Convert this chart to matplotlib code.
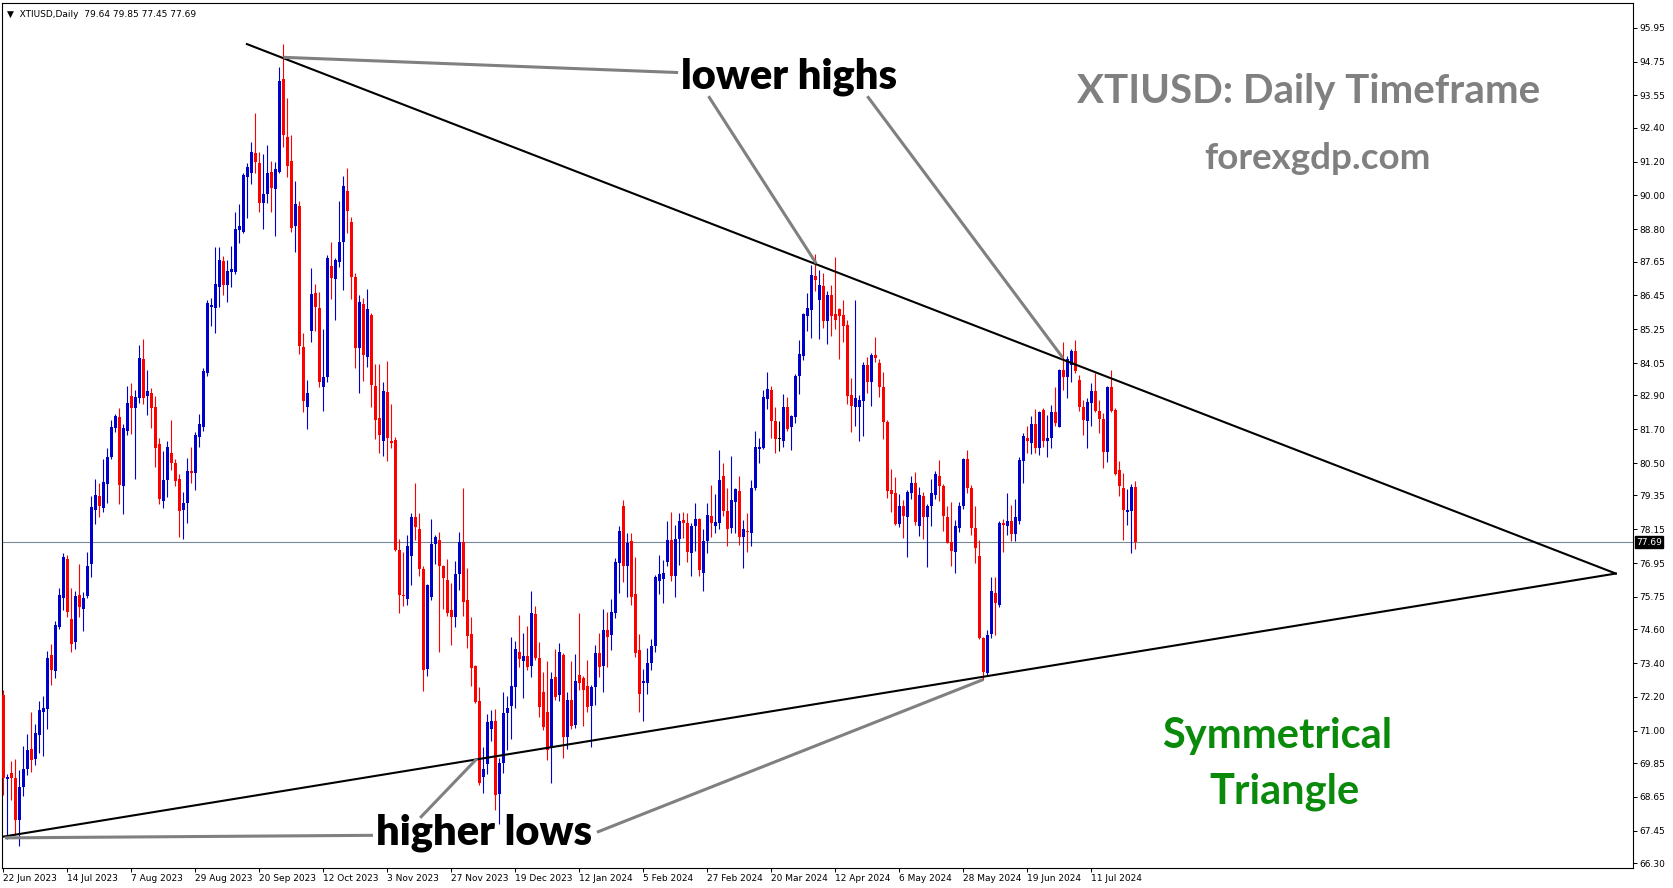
import numpy as np
import pandas as pd
import matplotlib
matplotlib.use("Agg")
import matplotlib.pyplot as plt

# ---- XTIUSD daily candles, 22 Jun 2023 .. 26 Jul 2024 ----
opens = [72.27, 69.30, 69.51, 69.33, 67.83, 69.01, 69.66, 70.35, 69.99, 70.86,
         71.67, 71.79, 73.69, 73.11, 74.69, 75.72, 77.10, 74.96, 74.16, 75.81,
         75.33, 75.77, 76.92, 78.84, 79.32, 78.89, 79.76, 80.72, 81.74, 82.13,
         79.70, 81.65, 82.88, 82.46, 82.80, 84.20, 82.88, 83.00, 82.49, 81.17,
         79.16, 79.90, 80.85, 80.49, 79.92, 78.83, 79.09, 80.23, 80.16, 81.44,
         81.79, 83.71, 86.03, 85.99, 86.74, 87.68, 86.82, 87.29, 87.29, 88.77,
         88.71, 90.64, 90.81, 91.52, 91.16, 89.74, 90.05, 90.83, 90.21, 90.84,
         94.12, 92.08, 91.23, 88.91, 89.62, 84.63, 82.48, 85.20, 86.52, 85.99,
         83.21, 83.54, 87.50, 87.03, 87.63, 88.36, 90.17, 89.06, 87.09, 84.59,
         86.16, 84.27, 85.75, 83.22, 82.10, 81.29, 83.03, 81.29, 81.32, 77.42,
         75.83, 75.68, 77.21, 78.58, 78.15, 76.74, 73.18, 75.76, 77.64, 77.76,
         76.84, 76.34, 75.29, 75.03, 76.55, 77.70, 75.64, 74.45, 73.29, 72.06,
         69.36, 69.82, 71.05, 71.35, 68.76, 69.85, 71.62, 71.88, 72.57, 73.81,
         73.46, 73.66, 73.30, 75.15, 73.57, 72.39, 71.65, 70.38, 72.90, 72.27,
         73.69, 70.79, 72.10, 71.21, 72.98, 72.86, 72.59, 71.88, 72.57, 73.77,
         73.30, 74.56, 74.40, 75.19, 76.97, 78.96, 76.83, 77.75, 75.86, 73.85,
         72.71, 72.69, 73.40, 74.01, 76.33, 76.38, 77.00, 77.77, 76.50, 77.80,
         78.48, 78.36, 77.32, 78.25, 78.51, 76.61, 77.74, 78.62, 78.27, 78.39,
         80.04, 78.81, 78.19, 79.13, 79.52, 77.89, 78.09, 78.03, 79.61, 80.99,
         81.03, 82.76, 83.10, 82.01, 81.34, 81.30, 82.48, 81.77, 82.12, 83.59,
         84.30, 85.72, 85.93, 87.14, 86.27, 86.79, 85.56, 86.47, 85.79, 85.96,
         85.76, 85.40, 82.92, 82.50, 82.50, 82.72, 83.98, 83.36, 84.34, 84.04,
         83.19, 81.97, 79.55, 79.43, 78.34, 78.98, 78.60, 79.45, 79.81, 78.25,
         79.33, 78.58, 78.96, 79.37, 80.04, 79.69, 78.60, 77.71, 77.36, 78.19,
         78.96, 80.64, 79.61, 78.19, 77.20, 74.31, 73.06, 74.45, 75.89, 75.45,
         78.39, 78.27, 78.46, 77.99, 78.46, 80.59, 81.38, 81.23, 81.89, 81.03,
         82.39, 81.30, 81.38, 82.33, 81.79, 83.81, 83.55, 83.98, 84.46, 83.45,
         82.50, 82.01, 82.62, 83.07, 82.36, 82.08, 80.91, 83.19, 82.39, 80.26,
         79.61, 78.78, 78.81, 79.64]
highs = [72.45, 69.45, 69.93, 69.99, 69.60, 70.47, 70.89, 71.65, 71.25, 72.05,
         72.25, 73.83, 74.07, 74.91, 76.07, 77.31, 77.25, 76.07, 75.96, 76.92,
         75.93, 77.33, 79.34, 79.94, 79.80, 80.66, 81.02, 82.04, 82.25, 82.44,
         81.89, 83.24, 83.33, 83.09, 84.68, 84.92, 83.80, 83.18, 82.88, 81.38,
         80.93, 81.30, 82.03, 80.63, 80.13, 79.49, 80.67, 81.08, 81.62, 82.24,
         83.86, 86.27, 86.35, 88.18, 88.18, 87.85, 87.71, 88.20, 89.42, 89.69,
         90.81, 91.14, 91.91, 92.93, 91.55, 91.47, 91.79, 91.23, 91.20, 94.54,
         95.37, 93.45, 92.14, 90.52, 89.81, 85.13, 83.45, 87.41, 86.86, 86.58,
         85.25, 87.89, 88.36, 87.78, 89.81, 90.70, 90.97, 89.23, 87.23, 86.48,
         86.36, 86.69, 85.82, 84.01, 84.01, 83.36, 84.13, 82.59, 81.41, 77.79,
         77.35, 77.93, 78.73, 79.78, 78.73, 76.84, 76.22, 78.51, 77.96, 78.05,
         76.89, 77.09, 76.26, 77.03, 78.07, 79.60, 76.77, 75.03, 73.32, 72.57,
         70.43, 71.59, 71.72, 71.76, 70.02, 72.39, 72.24, 74.34, 74.17, 75.11,
         74.46, 74.72, 75.97, 75.43, 74.16, 73.07, 73.49, 73.10, 73.89, 74.11,
         73.77, 72.39, 73.49, 73.73, 75.17, 72.95, 73.51, 72.63, 74.05, 74.48,
         75.31, 75.23, 75.67, 77.12, 78.25, 79.19, 78.03, 78.03, 77.16, 74.44,
         73.18, 73.93, 74.25, 76.53, 77.24, 77.06, 78.46, 78.78, 78.31, 78.74,
         78.78, 78.72, 78.39, 79.07, 78.54, 78.15, 79.07, 79.72, 79.41, 80.97,
         80.52, 79.61, 80.75, 79.61, 80.04, 78.48, 78.72, 79.90, 81.65, 81.38,
         83.10, 83.73, 83.24, 82.50, 82.01, 82.95, 82.86, 82.21, 83.66, 84.87,
         85.84, 86.55, 87.53, 87.92, 87.35, 87.24, 86.62, 86.82, 87.83, 85.99,
         86.29, 85.58, 83.51, 86.29, 82.92, 84.10, 84.28, 84.40, 84.99, 84.18,
         83.75, 82.03, 80.28, 80.00, 79.41, 79.19, 79.55, 80.04, 80.20, 79.64,
         79.49, 79.05, 79.93, 80.23, 80.61, 79.76, 78.96, 79.13, 78.48, 79.13,
         80.67, 80.97, 79.72, 78.96, 77.77, 74.34, 74.58, 76.45, 76.45, 78.46,
         78.51, 79.43, 79.01, 79.22, 80.73, 81.56, 81.82, 82.17, 82.41, 82.36,
         82.45, 82.21, 82.56, 83.21, 83.83, 84.81, 84.30, 84.54, 84.87, 83.63,
         82.74, 82.80, 83.33, 83.69, 82.74, 82.29, 83.24, 83.81, 82.45, 80.59,
         80.14, 79.57, 79.76, 79.85]
lows = [68.73, 67.17, 68.55, 67.29, 66.90, 68.67, 69.42, 69.54, 69.78, 70.21,
        70.11, 71.07, 72.61, 72.89, 74.60, 75.27, 75.03, 73.80, 73.89, 75.03,
        74.55, 75.72, 76.47, 78.33, 78.57, 78.77, 79.10, 80.66, 81.62, 79.04,
        78.69, 81.50, 81.53, 79.92, 82.64, 82.61, 82.22, 81.74, 80.36, 79.04,
        78.92, 79.31, 80.26, 79.69, 77.86, 77.80, 78.39, 79.80, 79.55, 81.06,
        81.65, 83.59, 85.37, 85.13, 86.03, 86.47, 86.23, 86.76, 87.21, 88.30,
        88.65, 89.19, 90.40, 90.78, 89.42, 88.79, 89.74, 89.42, 88.56, 90.78,
        91.73, 90.66, 88.71, 88.00, 84.37, 82.32, 81.70, 84.81, 85.20, 83.19,
        82.36, 83.39, 86.31, 85.58, 87.46, 86.65, 88.65, 86.33, 83.87, 82.99,
        83.43, 83.90, 82.49, 81.36, 80.85, 80.75, 80.58, 81.05, 77.38, 75.18,
        75.44, 75.47, 76.19, 77.76, 76.51, 72.40, 72.93, 75.64, 76.92, 73.80,
        75.32, 75.06, 74.05, 74.67, 75.99, 75.06, 73.94, 72.60, 71.99, 69.09,
        68.78, 69.45, 70.63, 68.19, 67.70, 69.49, 70.32, 70.70, 71.80, 73.28,
        72.18, 73.16, 72.92, 73.51, 71.50, 71.03, 69.97, 69.14, 72.09, 72.07,
        70.02, 70.34, 71.05, 71.09, 72.43, 71.17, 71.65, 70.44, 71.92, 72.90,
        72.39, 73.28, 73.85, 74.99, 75.88, 76.29, 75.74, 75.47, 73.61, 71.68,
        71.33, 72.31, 73.16, 73.81, 75.86, 75.52, 76.83, 76.33, 75.74, 76.89,
        77.83, 77.00, 76.50, 77.39, 76.50, 75.97, 77.30, 77.89, 78.03, 78.15,
        78.62, 77.56, 78.03, 78.03, 77.60, 76.77, 77.36, 77.56, 79.55, 80.49,
        80.99, 82.41, 81.38, 80.87, 80.94, 81.06, 81.65, 80.97, 81.94, 82.95,
        84.16, 85.17, 84.93, 86.62, 84.89, 85.28, 84.73, 85.01, 85.25, 84.18,
        84.81, 82.60, 81.62, 81.82, 81.30, 81.46, 83.00, 82.53, 84.07, 82.86,
        81.34, 79.25, 78.78, 78.31, 78.22, 77.83, 77.16, 79.22, 78.31, 77.91,
        77.80, 76.80, 78.27, 79.22, 79.17, 78.10, 77.65, 76.85, 76.59, 78.07,
        78.86, 79.43, 77.95, 76.97, 74.25, 72.80, 72.98, 74.29, 74.41, 75.41,
        77.36, 77.95, 77.75, 77.75, 78.34, 79.81, 80.87, 80.82, 80.85, 80.79,
        81.06, 80.71, 81.03, 81.82, 81.77, 83.10, 82.80, 83.36, 83.69, 82.36,
        81.50, 81.03, 81.82, 82.33, 81.58, 80.32, 80.55, 82.33, 80.08, 79.33,
        77.77, 78.30, 77.32, 77.45]
closes = [69.33, 69.36, 69.33, 67.83, 69.01, 69.66, 70.33, 69.97, 70.93, 71.73,
          71.81, 73.59, 73.15, 74.75, 75.81, 77.16, 75.20, 74.09, 75.77, 75.41,
          75.72, 76.85, 78.95, 79.37, 78.96, 79.82, 80.72, 81.77, 82.16, 79.73,
          81.74, 82.64, 82.46, 82.85, 84.24, 82.80, 83.06, 82.44, 81.05, 79.22,
          79.91, 81.08, 80.49, 79.88, 78.81, 79.09, 80.23, 80.16, 81.50, 81.89,
          83.78, 86.19, 86.11, 86.85, 87.71, 86.82, 87.33, 87.40, 88.79, 88.91,
          90.72, 91.02, 91.55, 91.20, 89.72, 90.05, 90.81, 90.28, 90.92, 94.07,
          92.14, 91.04, 88.86, 89.69, 84.65, 82.71, 82.98, 86.50, 86.05, 83.36,
          83.54, 87.77, 87.06, 87.71, 88.36, 90.35, 89.45, 87.09, 84.59, 86.21,
          84.33, 85.96, 83.26, 82.02, 81.48, 83.06, 81.38, 81.23, 77.42, 75.83,
          75.79, 77.57, 78.58, 78.22, 76.74, 73.15, 76.16, 77.64, 77.86, 76.84,
          76.41, 75.18, 75.03, 76.55, 77.71, 75.58, 74.38, 73.22, 72.02, 69.16,
          69.65, 71.30, 71.35, 68.72, 69.85, 71.62, 71.80, 72.59, 73.89, 73.54,
          73.66, 73.25, 75.17, 73.57, 71.84, 71.15, 70.32, 72.83, 72.21, 73.81,
          70.79, 72.10, 71.17, 72.78, 72.69, 72.43, 71.84, 72.57, 73.75, 73.25,
          74.56, 74.34, 75.23, 77.00, 78.10, 76.85, 77.68, 75.74, 73.77, 72.31,
          72.75, 73.42, 74.01, 76.45, 76.57, 76.59, 77.77, 76.50, 77.80, 78.46,
          78.36, 77.36, 78.25, 78.51, 76.71, 77.74, 78.66, 78.39, 78.42, 79.90,
          78.81, 78.15, 79.19, 79.57, 77.87, 78.15, 78.07, 79.61, 81.06, 81.08,
          82.84, 83.12, 82.01, 81.34, 81.34, 82.48, 81.70, 82.17, 83.59, 84.37,
          85.79, 85.99, 87.18, 87.00, 86.82, 85.56, 86.47, 85.72, 85.58, 85.72,
          85.37, 82.88, 82.53, 82.80, 82.74, 83.98, 83.39, 84.34, 84.22, 83.19,
          81.97, 79.52, 79.41, 78.34, 78.98, 78.62, 79.49, 79.81, 78.42, 79.37,
          78.58, 78.98, 79.43, 80.11, 79.69, 78.62, 77.68, 77.39, 78.25, 78.96,
          80.64, 79.61, 78.19, 77.48, 74.28, 73.10, 74.40, 75.95, 75.55, 78.39,
          78.30, 78.46, 77.99, 78.58, 80.61, 81.46, 81.30, 81.89, 81.03, 82.33,
          81.30, 81.38, 82.33, 81.91, 83.81, 83.55, 84.18, 84.46, 83.78, 82.50,
          82.03, 82.65, 83.07, 82.36, 82.08, 80.91, 83.21, 82.36, 80.11, 79.67,
          78.84, 78.84, 79.64, 77.69]

# trading days shown by the terminal (these holidays have no bar)
missing_days = ["2023-12-25", "2024-01-01", "2024-03-29"]
dates = pd.bdate_range("2023-06-22", "2024-07-26").drop(pd.to_datetime(missing_days))

price_labels = [95.95, 94.75, 93.55, 92.40, 91.20, 90.00, 88.80, 87.65, 86.45,
                85.25, 84.05, 82.90, 81.70, 80.50, 79.35, 78.15, 76.95, 75.75,
                74.60, 73.40, 72.20, 71.00, 69.85, 68.65, 67.45, 66.30]
date_label_every = 16

# triangle trend lines (bar index, price)
upper_trend = [(60.9, 95.37), (403.1, 76.58)]
lower_trend = [(-0.15, 67.24), (403.1, 76.58)]

# grey pointer lines for the notes
pointers_highs = [[(70.0, 94.90), (168.7, 94.36)],
                  [(176.3, 93.52), (203.2, 87.59)],
                  [(216.0, 93.52), (264.9, 84.23)]]
pointers_lows = [[(0.4, 67.20), (92.4, 67.29)],
                 [(104.2, 67.91), (118.4, 70.01)],
                 [(148.4, 67.40), (245.0, 72.82)]]

BLUE = "#0000CD"
RED = "#FF0000"

o = np.array(opens); h = np.array(highs); l = np.array(lows); c = np.array(closes)
x = np.arange(len(o))
cols = np.where(c > o, BLUE, np.where(c < o, RED, "black"))

fig = plt.figure(figsize=(16.73, 8.88), dpi=100)
ax = fig.add_axes([2.3 / 1673, 1 - 868 / 888, (1633 - 2.3) / 1673, (868 - 3.5) / 888])

ax.vlines(x, l, h, colors=cols, lw=0.8, zorder=3)
body_lo = np.minimum(o, c)
body_h = np.maximum(np.abs(c - o), 0.035)
ax.bar(x, body_h, bottom=body_lo, width=0.76, color=cols, linewidth=0, zorder=4)

# bid line
ax.axhline(c[-1], color="#778899", lw=0.8, zorder=2)

# trend lines
for seg in (upper_trend, lower_trend):
    xs, ys = zip(*seg)
    ax.plot(xs, ys, color="black", lw=1.5, zorder=5)
for seg in pointers_highs + pointers_lows:
    xs, ys = zip(*seg)
    ax.plot(xs, ys, color="#808080", lw=2.2, zorder=5, solid_capstyle="butt")

ax.set_xlim(-0.25, 407.4)
ax.set_ylim(66.13, 96.81)

# axes styling like the terminal
for sp in ax.spines.values():
    sp.set_color("black")
    sp.set_linewidth(0.8)
ax.yaxis.tick_right()
ax.set_yticks(price_labels)
ax.set_yticklabels([f"{v:.2f}" for v in price_labels])
ax.tick_params(axis="y", length=3, width=0.7, pad=1.5, labelsize=6.5, colors="black")

tick_idx = list(range(0, len(dates), date_label_every))
ax.set_xticks(tick_idx)
ax.set_xticklabels([f"{dates[i].day} {dates[i]:%b %Y}" for i in tick_idx], ha="left")
ax.tick_params(axis="x", length=3, width=0.7, pad=1.0, labelsize=6.5)

# current price box
ax.text(1.002, c[-1], f"{c[-1]:.2f}", transform=ax.get_yaxis_transform(),
        ha="left", va="center", fontsize=6.5, color="white",
        bbox=dict(boxstyle="square,pad=0.15", fc="black", ec="black"))

# header
ax.text(0.003, 0.993, "\u25bc  XTIUSD,Daily  %.2f %.2f %.2f %.2f" % (o[-1], h[-1], l[-1], c[-1]),
        transform=ax.transAxes, ha="left", va="top", fontsize=6.5)

# notes
ax.text(169.4, 94.21, "lower highs", fontsize=30, fontweight="heavy", family="Lato",
        ha="left", va="center", zorder=6)
ax.text(93.1, 67.39, "higher lows", fontsize=30, fontweight="heavy", family="Lato",
        ha="left", va="center", zorder=6)
fig.text(0.782, 0.8966, "XTIUSD: Daily Timeframe", fontsize=29, fontweight="bold",
         family="Lato", color="#808080", ha="center", va="center")
fig.text(0.7876, 0.822, "forexgdp.com", fontsize=26.5, fontweight="bold",
         family="Lato", color="#808080", ha="center", va="center")
fig.text(0.7633, 0.1707, "Symmetrical", fontsize=30, fontweight="bold",
         family="Lato", color="#0A8A0A", ha="center", va="center")
fig.text(0.7678, 0.1081, "Triangle", fontsize=30, fontweight="bold",
         family="Lato", color="#0A8A0A", ha="center", va="center")

fig.savefig("out.png", dpi=100, facecolor="white")
